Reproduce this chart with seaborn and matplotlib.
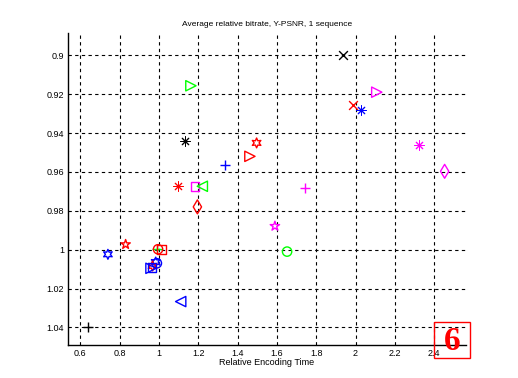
import seaborn as sns
import matplotlib.pyplot as plt
from matplotlib.patches import Rectangle
from matplotlib.ticker import FuncFormatter

# relative encoding time / relative bitrate
enc_time = [1.163, 1.133, 1.935, 2.108, 1.986, 2.026, 1.497, 1.463, 1.336,
            1.099, 1.184, 1.221, 1.196, 2.322, 2.453, 1.742, 1.590, 1.652,
            0.831, 0.741, 1.111, 0.639,
            0.989, 1.015, 0.996, 0.984, 0.990, 0.968, 0.960, 0.965]
bitrate = [0.9157, 0.9440, 0.9000, 0.9190, 0.9255, 0.9280, 0.9451, 0.9520, 0.9566,
           0.9674, 0.9674, 0.9674, 0.9780, 0.9460, 0.9597, 0.9682, 0.9879, 1.0010,
           0.9973, 1.0024, 1.0267, 1.0397,
           0.9995, 1.0000, 0.9998, 1.0064, 1.0070, 1.0084, 1.0096, 1.0092]
colors = ["g", "k", "k", "m", "r", "b", "r", "r", "b",
          "r", "m", "g", "r", "m", "m", "m", "m", "g",
          "r", "b", "b", "k",
          "g", "r", "r", "b", "b", "r", "b", "b"]
markers = [">", "*", "x", ">", "x", "*", "h", ">", "+",
           "*", "s", "<", "d", "*", "d", "+", "p", "o",
           "p", "h", "<", "+",
           "+", "s", "o", "h", "o", "h", ">", "s"]

# matlab colours and marker shapes
rgb = {"r": "#ff0000", "g": "#00ff00", "b": "#0000ff", "m": "#ff00ff", "k": "#000000"}
shape = {"*": (8, 2, 0), "h": (6, 1, 0), "p": "*", "d": "d"}
sizes = {"+": 55, "x": 40, "*": 45, ">": 55, "<": 55, "s": 40, "o": 45,
         "d": 50, "h": 50, "p": 50}
line_markers = ["+", "x", "*"]

plt.rcParams["font.family"] = ["Liberation Sans", "DejaVu Sans"]
fig = plt.figure(figsize=(5.18, 3.78), dpi=100)
ax = fig.add_axes([0.132, 0.0865, 0.767, 0.826])

for x, y, c, m in zip(enc_time, bitrate, colors, markers):
    col = rgb[c]
    if m in line_markers:
        lw = 0.7 if m == "*" else 1
        sns.scatterplot(x=[x], y=[y], marker=shape.get(m, m), s=sizes[m], color=col,
                        linewidth=lw, ax=ax)
    else:
        sns.scatterplot(x=[x], y=[y], marker=shape.get(m, m), s=sizes[m], color=col,
                        facecolor="none", edgecolor=col, linewidth=1, ax=ax)

ax.set_xlim(0.54, 2.56)
ax.set_ylim(1.0492, 0.8886)
ax.set_xticks([0.6, 0.8, 1.0, 1.2, 1.4, 1.6, 1.8, 2.0, 2.2, 2.4])
ax.set_yticks([0.9, 0.92, 0.94, 0.96, 0.98, 1.0, 1.02, 1.04])
fmt = FuncFormatter(lambda v, p: "%g" % round(v, 2))
ax.xaxis.set_major_formatter(fmt)
ax.yaxis.set_major_formatter(fmt)
ax.tick_params(length=0, labelsize=6.5, pad=3)
ax.grid(True, color="k", linestyle=(0, (3, 3)), linewidth=0.8)
ax.set_axisbelow(True)
for s in ["top", "right"]:
    ax.spines[s].set_visible(False)
for s in ["left", "bottom"]:
    ax.spines[s].set_linewidth(1)
ax.set_title("Average relative bitrate, Y-PSNR, 1 sequence", fontsize=6, pad=5)
ax.set_xlabel("Relative Encoding Time", fontsize=6.5, labelpad=0)
ax.set_ylabel("")

# page number box in the corner
fig.patches.append(Rectangle((434 / 518, 1 - 358 / 378), 36 / 518, 36 / 378,
                             transform=fig.transFigure, fill=False, edgecolor="r",
                             linewidth=1))
fig.text(452 / 518, 1 - 342 / 378, "6", color="r", fontsize=24, fontweight="bold",
         family="Liberation Serif", ha="center", va="center")

fig.savefig("out.png", dpi=100)
